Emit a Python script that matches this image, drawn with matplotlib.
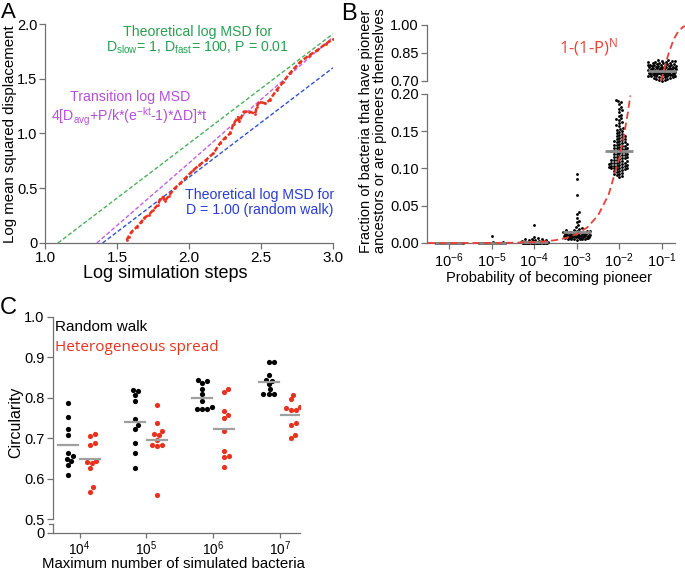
import numpy as np
import matplotlib
matplotlib.use("Agg")
import matplotlib.pyplot as plt

plt.rcParams['font.family'] = ['Liberation Sans', 'DejaVu Sans']
plt.rcParams['mathtext.default'] = 'regular'

# ---------------- Panel A data ----------------
a_green_x = [1.09, 3.0]
a_green_y = [0.0, 1.91]
a_blue_x = [1.40, 3.0]
a_blue_y = [0.0, 1.60]
a_mag_x = [1.36, 2.0, 2.5, 3.0]
a_mag_y = [0.0, 0.73, 1.31, 1.88]
a_sim_x = [1.567, 1.58, 1.60, 1.64, 1.67, 1.69, 1.72, 1.75, 1.785, 1.80, 1.82, 1.83,
           1.86, 1.90, 1.94, 1.98, 2.03, 2.07, 2.12, 2.17, 2.215, 2.25, 2.285, 2.31,
           2.34, 2.35, 2.38, 2.42, 2.46, 2.47, 2.49, 2.53, 2.56, 2.61, 2.655, 2.70,
           2.77, 2.83, 2.89, 2.95, 3.0]
a_sim_y = [0.027, 0.058, 0.10, 0.15, 0.195, 0.23, 0.255, 0.30, 0.35, 0.40, 0.42, 0.38,
           0.43, 0.50, 0.545, 0.60, 0.665, 0.71, 0.76, 0.82, 0.91, 0.96, 1.00, 1.09,
           1.15, 1.11, 1.20, 1.20, 1.18, 1.245, 1.29, 1.275, 1.305, 1.40, 1.47, 1.55,
           1.65, 1.71, 1.76, 1.82, 1.86]

# ---------------- Panel B data ----------------
b_exponents = [-6, -5, -4, -3, -2, -1]
b_tick_labels = [r'$10^{-6}$', r'$10^{-5}$', r'$10^{-4}$', r'$10^{-3}$', r'$10^{-2}$', r'$10^{-1}$']
b_means = [0.0, 0.0005, 0.002, 0.0143, 0.123, 0.752]
b_g6 = [0.0] * 40
b_g5 = [0.0098, 0.0012, 0.0008, 0.0006, 0.0005, 0.0004, 0.0003, 0.0002, 0.0002, 0.0001,
        0.0001, 0.0001] + [0.0] * 28
b_g4 = [0.024, 0.0085, 0.0065, 0.006, 0.0055, 0.005, 0.0045, 0.004, 0.0035, 0.003,
        0.0028, 0.0025, 0.0022, 0.002, 0.0018, 0.0016, 0.0015, 0.0013, 0.0012, 0.001,
        0.001, 0.0009, 0.0008, 0.0007, 0.0006, 0.0005, 0.0004, 0.0004, 0.0003, 0.0002,
        0.0002, 0.0001, 0.0001] + [0.0] * 12
b_g3 = [0.0926, 0.0855, 0.065, 0.042, 0.039, 0.034, 0.030, 0.0277, 0.024, 0.021, 0.020,
        0.019, 0.018, 0.017, 0.0165, 0.016, 0.0155, 0.015, 0.015, 0.0145, 0.014, 0.014,
        0.0135, 0.013, 0.013, 0.0125, 0.012, 0.012, 0.0118, 0.0115, 0.0112, 0.011, 0.011,
        0.0108, 0.0105, 0.0102, 0.010, 0.010, 0.0098, 0.0095, 0.0092, 0.009, 0.009,
        0.0088, 0.0085, 0.0082, 0.008, 0.008, 0.0078, 0.0075, 0.0072, 0.007, 0.0068,
        0.0065, 0.0062, 0.006, 0.0058, 0.0055, 0.0052, 0.005, 0.0048, 0.0045]
b_g2 = [0.192, 0.190, 0.189, 0.186, 0.183, 0.180, 0.178, 0.176, 0.172, 0.170, 0.168,
        0.166, 0.165, 0.163, 0.161, 0.158, 0.157, 0.155, 0.153, 0.152, 0.150, 0.149,
        0.147, 0.146, 0.145, 0.144, 0.143, 0.142, 0.141, 0.140, 0.139, 0.138, 0.137,
        0.137, 0.136, 0.135, 0.134, 0.133, 0.133, 0.132, 0.131, 0.130, 0.130, 0.129,
        0.128, 0.128, 0.127, 0.126, 0.126, 0.125, 0.124, 0.124, 0.123, 0.122, 0.122,
        0.121, 0.120, 0.120, 0.119, 0.118, 0.118, 0.117, 0.116, 0.116, 0.115, 0.114,
        0.114, 0.113, 0.112, 0.112, 0.111, 0.110, 0.110, 0.109, 0.108, 0.108, 0.107,
        0.107, 0.106, 0.106, 0.105, 0.105, 0.104, 0.104, 0.103, 0.103, 0.102, 0.102,
        0.101, 0.101, 0.100, 0.100, 0.099, 0.099, 0.098, 0.097, 0.096, 0.095, 0.094,
        0.093, 0.092, 0.091, 0.090, 0.089]
b_g1 = [0.812, 0.810, 0.808, 0.806, 0.805, 0.803, 0.801, 0.800, 0.798, 0.797, 0.795,
        0.794, 0.792, 0.791, 0.790, 0.788, 0.787, 0.786, 0.785, 0.784, 0.782, 0.781,
        0.780, 0.779, 0.778, 0.777, 0.776, 0.775, 0.774, 0.773, 0.772, 0.771, 0.770,
        0.769, 0.768, 0.767, 0.766, 0.765, 0.764, 0.763, 0.762, 0.761, 0.760, 0.760,
        0.759, 0.758, 0.757, 0.756, 0.755, 0.755, 0.754, 0.753, 0.752, 0.751, 0.750,
        0.750, 0.749, 0.748, 0.747, 0.746, 0.745, 0.745, 0.744, 0.743, 0.742, 0.741,
        0.740, 0.740, 0.739, 0.738, 0.737, 0.736, 0.735, 0.735, 0.734, 0.733, 0.732,
        0.731, 0.730, 0.729, 0.728, 0.727, 0.726, 0.725, 0.724, 0.722, 0.720, 0.718,
        0.716, 0.714, 0.712, 0.710, 0.707, 0.704, 0.702]
b_groups = [b_g6, b_g5, b_g4, b_g3, b_g2, b_g1]
# theoretical curve 1-(1-P)^N
b_curve_lo_x = [-6.5, -6.0, -5.5, -5.0, -4.5, -4.0, -3.75, -3.5, -3.25, -3.0, -2.75, -2.5,
                -2.25, -2.0, -1.9, -1.8, -1.74]
b_curve_lo_y = [0.0, 0.00001, 0.00004, 0.00012, 0.00038, 0.0012, 0.0021, 0.0038, 0.0067,
                0.0119, 0.021, 0.037, 0.065, 0.114, 0.141, 0.1745, 0.198]
b_curve_hi_x = [-1.02, -0.95, -0.9, -0.85, -0.8, -0.75, -0.7, -0.65, -0.6, -0.5, -0.4]
b_curve_hi_y = [0.70, 0.755, 0.80, 0.84, 0.873, 0.905, 0.931, 0.952, 0.969, 0.990, 0.998]

# ---------------- Panel C data ----------------
c_tick_labels = [r'$10^4$', r'$10^5$', r'$10^6$', r'$10^7$']
c_random = [
    [0.788, 0.753, 0.724, 0.708, 0.663, 0.656, 0.650, 0.644, 0.634, 0.609],
    [0.819, 0.807, 0.817, 0.793, 0.747, 0.733, 0.722, 0.689, 0.663, 0.627],
    [0.842, 0.845, 0.837, 0.823, 0.809, 0.793, 0.772, 0.772, 0.772, 0.778],
    [0.890, 0.890, 0.857, 0.845, 0.843, 0.834, 0.821, 0.809, 0.809, 0.809],
]
c_hetero = [
    [0.705, 0.712, 0.689, 0.683, 0.642, 0.638, 0.645, 0.626, 0.579, 0.568],
    [0.783, 0.739, 0.719, 0.708, 0.710, 0.696, 0.683, 0.680, 0.683, 0.560],
    [0.823, 0.815, 0.768, 0.757, 0.751, 0.719, 0.668, 0.656, 0.654, 0.630],
    [0.808, 0.797, 0.776, 0.770, 0.770, 0.778, 0.737, 0.733, 0.702, 0.708],
]
c_random_means = [0.683, 0.741, 0.801, 0.840]
c_hetero_means = [0.649, 0.696, 0.724, 0.758]

RED = '#e8321e'
GREEN = '#27a052'
MAGENTA = '#b44fd8'
BLUE = '#2a3cd2'
SPINE = '#707070'
MEANC = '#a0a0a0'

W, H = 685, 571
fig = plt.figure(figsize=(W / 100, H / 100), dpi=100)


def rect(l, t, r, b):
    return [l / W, 1 - b / H, (r - l) / W, (b - t) / H]


def style(ax, fs):
    for s in ['top', 'right']:
        ax.spines[s].set_visible(False)
    for s in ['left', 'bottom']:
        ax.spines[s].set_color(SPINE)
        ax.spines[s].set_linewidth(0.9)
    ax.tick_params(direction='out', length=4, width=0.9, color=SPINE, labelsize=fs, pad=2)


def swarm(vals, ypx_per_unit, d, max_half):
    """Beeswarm offsets in pixels (layout only)."""
    ys = np.asarray(vals, float) * ypx_per_unit
    order = np.argsort(ys)
    placed = []
    offs = np.zeros(len(ys))
    k = 0
    for i in order:
        y = ys[i]
        cands = [0.0]
        near = [(px, py) for px, py in placed if abs(py - y) < d]
        for px, py in near:
            dx = np.sqrt(max(d * d - (y - py) ** 2, 0))
            cands += [px + dx, px - dx]
        cands = sorted(cands, key=abs)
        chosen = None
        for c in cands:
            if abs(c) > max_half + 1e-9:
                continue
            if all((c - px) ** 2 + (y - py) ** 2 >= d * d - 1e-6 for px, py in near):
                chosen = c
                break
        if chosen is None:
            k += 1
            chosen = -max_half + ((k * 0.618) % 1.0) * 2 * max_half
        placed.append((chosen, y))
        offs[i] = chosen
    return offs


# ================= Panel A =================
aL, aT, aR, aB = 45, 24, 333, 243
axA = fig.add_axes(rect(aL, aT, aR, aB))
style(axA, 11)
axA.tick_params(axis='y', labelsize=10.5, pad=1.5)
axA.plot(a_green_x, a_green_y, color='#4db05a', lw=1.0, ls=(0, (3, 1.6)))
axA.plot(a_mag_x, a_mag_y, color='#c060e0', lw=1.0, ls=(0, (3, 1.6)))
axA.plot(a_blue_x, a_blue_y, color='#3050d8', lw=1.0, ls=(0, (3, 1.6)))
axA.plot(a_sim_x, a_sim_y, color=RED, lw=1.8, ls=(0, (2, 0.8)), marker='o', ms=2, mew=0)
axA.set_xlim(1.0, 3.0)
axA.set_ylim(0, 2.0)
axA.set_xticks([1.0, 1.5, 2.0, 2.5, 3.0])
axA.set_xticklabels(['1.0', '1.5', '2.0', '2.5', '3.0'])
axA.set_yticks([0, 0.5, 1.0, 1.5, 2.0])
axA.set_yticklabels(['0', '0.5', '1.0', '1.5', '2.0'])
axA.set_xlabel('Log simulation steps', fontsize=13, va='center')
axA.xaxis.set_label_coords((165 - aL) / (aR - aL), (aB - 274) / (aB - aT))
axA.set_ylabel('Log mean squared displacement', fontsize=10.8, va='center')
axA.yaxis.set_label_coords((10 - aL) / (aR - aL), (aB - 134) / (aB - aT))
axA.text(2.06, 1.93, 'Theoretical log MSD for', color=GREEN, fontsize=10.2, ha='center', va='center')
axA.text(2.06, 1.785, r'D$_{slow}$= 1, D$_{fast}$= 100, P = 0.01', color=GREEN, fontsize=10.2,
         ha='center', va='center')
axA.text(1.59, 1.33, 'Transition log MSD', color=MAGENTA, fontsize=10.2, ha='center', va='center')
axA.text(1.59, 1.155, r'4[D$_{avg}$+P/k*(e$^{-kt}$-1)*ΔD]*t', color=MAGENTA, fontsize=10.2,
         ha='center', va='center')
axA.text(2.49, 0.44, 'Theoretical log MSD for', color=BLUE, fontsize=10.2, ha='center', va='center')
axA.text(2.49, 0.30, 'D = 1.00 (random walk)', color=BLUE, fontsize=10.2, ha='center', va='center')

# ================= Panel B =================
bl, br = 427, 675
x_lo, x_hi = -6.52, -0.69
xpx = (br - bl) / (x_hi - x_lo)
axBt = fig.add_axes(rect(bl, 25, br, 81))
axBb = fig.add_axes(rect(bl, 94, br, 243))
for ax in (axBt, axBb):
    style(ax, 10.5)
    ax.set_xlim(x_lo, x_hi)
axBt.spines['bottom'].set_visible(False)
axBt.tick_params(axis='x', bottom=False, labelbottom=False)
axBt.set_ylim(0.70, 1.00)
axBt.set_yticks([0.70, 0.85, 1.00])
axBt.set_yticklabels(['0.70', '0.85', '1.00'])
axBb.set_ylim(0.0, 0.20)
axBb.set_yticks([0, 0.05, 0.10, 0.15, 0.20])
axBb.set_yticklabels(['0.00', '0.05', '0.10', '0.15', '0.20'])
axBb.set_xticks(b_exponents)
axBb.set_xticklabels(b_tick_labels)
axBb.set_xlabel('Probability of becoming pioneer', fontsize=10.5, va='center')
axBb.xaxis.set_label_coords((549 - bl) / (br - bl), (243 - 278) / 149)

ypx_bot = 149 / 0.20
ypx_top = 56 / 0.30
for e, vals, m in zip(b_exponents, b_groups, b_means):
    top = m > 0.5
    ax = axBt if top else axBb
    ypx = ypx_top if top else ypx_bot
    offs = swarm(vals, ypx, 2.9, 14)
    ax.scatter(e + offs / xpx, vals, s=4.2, color='black', lw=0, zorder=3, clip_on=False)
    ax.plot([e - 14 / xpx, e + 14 / xpx], [m, m], color='#8a8a8a', lw=2.0, zorder=4,
            solid_capstyle='butt', clip_on=False)

axBb.plot(b_curve_lo_x, b_curve_lo_y, color='#e8413a', lw=1.3, ls=(0, (4, 2.2)), zorder=5,
          clip_on=False)
axBt.plot(b_curve_hi_x, b_curve_hi_y, color='#e8413a', lw=1.3, ls=(0, (4, 2.2)), zorder=5,
          clip_on=False)
axBt.text(-2.73, 0.882, r'1-(1-P)$^N$', color='#e8413a', fontsize=12,
          family=['Open Sans', 'DejaVu Sans'], ha='center', va='center')
fig.text(373 / W, 1 - 131 / H, 'Fraction of bacteria that have pioneer\nancestors or are pioneers themselves',
         rotation=90, ha='center', va='center', fontsize=10.5, linespacing=1.05)

# ================= Panel C =================
c_top, c_bot = 317, 533
ypx_c = (519.3 - 316.7) / 0.5
c_ylo = 0.5 - (c_bot - 519.3) / ypx_c
c_l, c_r = 53, 300
tick0, tstep = 79.5, 66.8
c_xlo = (c_l - tick0) / tstep
c_xhi = (c_r - tick0) / tstep
axC = fig.add_axes(rect(c_l, c_top, c_r, c_bot))
style(axC, 10.5)
axC.tick_params(axis='x', labelsize=9.8, pad=1, length=3.5)
axC.set_xlim(c_xlo, c_xhi)
axC.set_ylim(c_ylo, 1.0)
axC.spines['left'].set_bounds(0.5, 1.0)
axC.set_yticks([c_ylo, 0.5, 0.6, 0.7, 0.8, 0.9, 1.0])
axC.set_yticklabels(['0', '0.5', '0.6', '0.7', '0.8', '0.9', '1.0'])
axC.set_xticks(range(4))
axC.set_xticklabels(c_tick_labels)
axC.set_xlabel('Maximum number of simulated bacteria', fontsize=10.8, va='baseline')
axC.xaxis.set_label_coords((173 - c_l) / (c_r - c_l), (c_bot - 568) / (c_bot - c_top))
axC.set_ylabel('Circularity', fontsize=11.5, va='center')
axC.yaxis.set_label_coords((16 - c_l) / (c_r - c_l), (c_bot - 422) / (c_bot - c_top))
# broken-axis stub
yb = 0.5 - (524.3 - 519.3) / ypx_c
axC.plot([c_xlo, c_xlo], [c_ylo, yb], color=SPINE, lw=0.9, clip_on=False)
axC.plot([c_xlo - 4 / tstep, c_xlo], [yb, yb], color=SPINE, lw=0.9, clip_on=False)

for i in range(4):
    for vals, m, col, dx in ((c_random[i], c_random_means[i], 'black', -0.17),
                             (c_hetero[i], c_hetero_means[i], RED, 0.16)):
        offs = swarm(vals, ypx_c, 5.2, 12)
        axC.scatter(i + dx + offs / tstep, vals, s=14, color=col, lw=0, zorder=3)
        axC.plot([i + dx - 10 / tstep, i + dx + 10 / tstep], [m, m], color=MEANC, lw=1.6, zorder=4)

axC.text(0.01, 0.985, 'Random walk', transform=axC.transAxes, fontsize=11, color='black',
         ha='left', va='top')
axC.text(0.01, 0.895, 'Heterogeneous spread', transform=axC.transAxes, fontsize=11, color=RED,
         family=['Open Sans', 'DejaVu Sans'], ha='left', va='top')

# panel letters
fig.text(8 / W, 1 - 13 / H, 'A', fontsize=16, ha='center', va='center')
fig.text(349 / W, 1 - 14 / H, 'B', fontsize=17, ha='center', va='center')
fig.text(8 / W, 1 - 308 / H, 'C', fontsize=17, ha='center', va='center')

fig.savefig('out.png', dpi=100)
